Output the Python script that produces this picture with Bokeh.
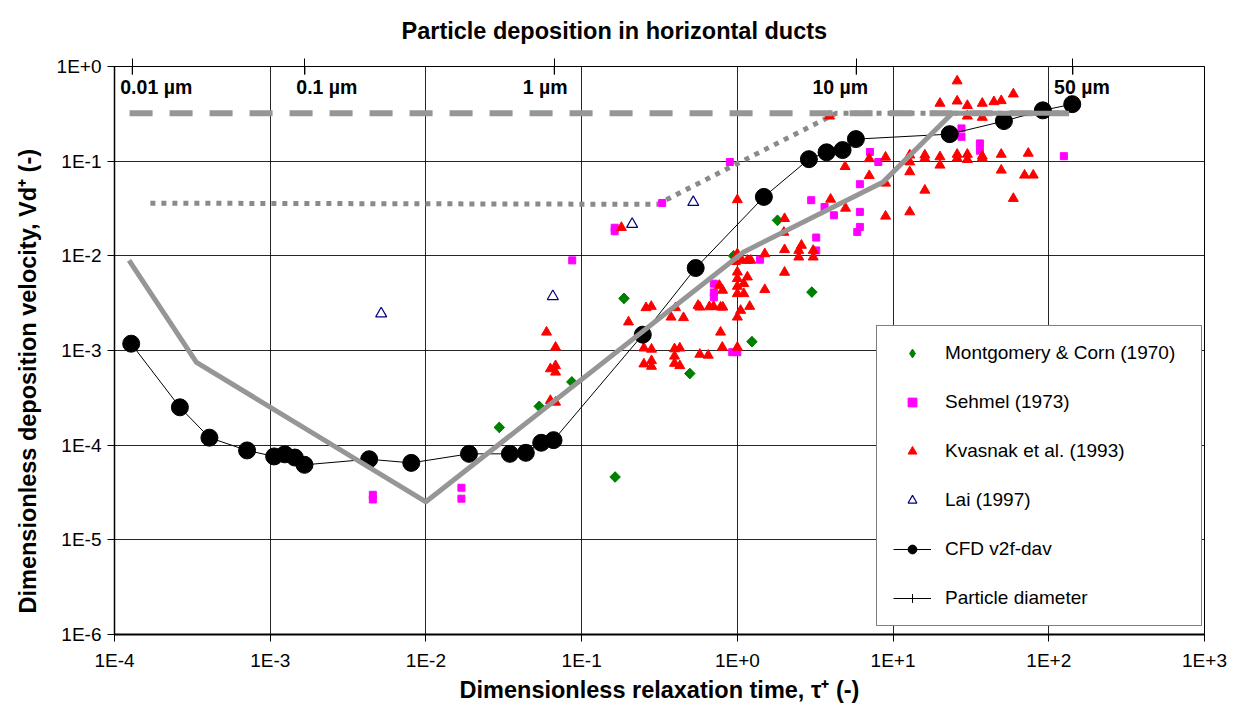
import math
from bokeh.plotting import figure
from bokeh.models import (Range1d, LogAxis, FixedTicker, Title, Legend, LegendItem,
                          ColumnDataSource, CustomJSTickFormatter)
from bokeh.embed import file_html
from bokeh.resources import INLINE
from bokeh.core.properties import value

# ---------------- data ----------------
x_ticks = [1e-4, 1e-3, 1e-2, 1e-1, 1e0, 1e1, 1e2, 1e3]
x_tick_labels = ["1E-4", "1E-3", "1E-2", "1E-1", "1E+0", "1E+1", "1E+2", "1E+3"]
y_ticks = [1e-6, 1e-5, 1e-4, 1e-3, 1e-2, 1e-1, 1e0]
y_tick_labels = ["1E-6", "1E-5", "1E-4", "1E-3", "1E-2", "1E-1", "1E+0"]

mc_tau = [2.96e-2, 5.34e-2, 8.65e-2, 0.164, 0.187, 0.495, 0.946, 1.24, 1.81, 3.01]
mc_vd = [1.54e-4, 2.57e-4, 4.66e-4, 4.61e-5, 3.55e-3, 5.71e-4, 1.0e-2, 1.24e-3, 2.37e-2, 4.14e-3]

se_tau = [4.56e-3, 4.56e-3, 1.69e-2, 1.69e-2, 8.7e-2, 0.163, 0.163, 0.329, 0.706, 0.706,
          0.706, 0.927, 1.0, 0.895, 1.4, 2.98, 3.63, 4.17, 6.12, 6.12,
          5.89, 3.21, 3.21, 7.1, 8.04, 6.12, 27.5, 27.5, 36.1, 36.1, 125]
se_vd = [2.99e-5, 2.67e-5, 3.55e-5, 2.72e-5, 8.96e-3, 1.98e-2, 1.82e-2, 3.62e-2, 5.08e-3, 4.11e-3,
         3.64e-3, 9.6e-4, 9.6e-4, 9.8e-2, 9.1e-3, 3.87e-2, 3.28e-2, 2.68e-2, 2.91e-2, 2.02e-2,
         1.79e-2, 1.56e-2, 1.14e-2, 0.125, 0.098, 5.71e-2, 0.222, 0.181, 0.154, 0.129, 0.113]

kv_tau = [5.95e-2, 6.8e-2, 6.3e-2, 6.8e-2, 6.8e-2, 6.3e-2, 6.8e-2, 0.180, 0.200, 0.259,
          0.280, 0.251, 0.281, 0.251, 0.281, 0.281, 0.375, 0.401, 0.451, 0.395,
          0.427, 0.395, 0.395, 0.427, 0.559, 0.574, 0.574, 0.650, 0.661, 0.703,
          0.780, 0.807, 0.766, 0.804, 0.780, 0.80, 1.0, 1.0, 1.0, 1.0,
          1.0, 1.10, 1.16, 1.10, 1.05, 1.0, 1.20, 1.0, 1.50, 1.50,
          1.07, 1.16, 1.22, 2.01, 2.01, 2.01, 2.58, 2.48, 2.48, 3.07,
          3.07, 3.97, 4.95, 1.0, 3.91, 4.92, 7.03, 7.03, 8.95, 8.95,
          8.95, 1.99, 0.97, 25.8, 59.2, 20.0, 25.8, 30.0, 37.4, 44.4,
          49.5, 30.0, 37.4, 12.8, 12.8, 16.0, 16.0, 20.0, 20.0, 25.8,
          25.8, 30.0, 30.0, 37.4, 37.4, 49.5, 73.8, 12.8, 49.5, 69.9,
          79.5, 16.0, 59.2, 12.8]
kv_vd = [1.56e-3, 1.08e-3, 6.4e-4, 6.9e-4, 5.9e-4, 2.96e-4, 2.84e-4, 1.99e-2, 2.0e-3, 2.83e-3,
         2.92e-3, 1.06e-3, 1.03e-3, 7.2e-4, 7.8e-4, 6.8e-4, 2.25e-3, 2.83e-3, 2.22e-3, 1.04e-3,
         1.06e-3, 8.7e-4, 7.3e-4, 6.9e-4, 2.99e-3, 2.87e-3, 9.1e-4, 8.9e-4, 2.89e-3, 2.92e-3,
         2.87e-3, 2.87e-3, 4.87e-3, 4.32e-3, 1.56e-3, 1.08e-3, 1.05e-2, 6.74e-3, 5.74e-3, 4.76e-3,
         3.98e-3, 5.08e-3, 5.97e-3, 3.98e-3, 2.65e-3, 2.25e-3, 2.92e-3, 1.08e-3, 1.05e-2, 4.39e-3,
         8.96e-3, 8.96e-3, 8.96e-3, 2.47e-2, 1.16e-2, 6.69e-3, 1.29e-2, 1.14e-2, 9.7e-3, 1.14e-2,
         9.7e-3, 3.96e-2, 3.18e-2, 3.91e-2, 0.299, 8.75e-2, 0.106, 7.03e-2, 0.110, 2.62e-2,
         5.85e-2, 1.77e-2, 8.7e-3, 0.703, 0.512, 0.408, 0.431, 0.387, 0.408, 0.424,
         0.435, 0.299, 0.290, 0.116, 0.098, 0.116, 0.107, 0.111, 9.07e-2, 0.118,
         0.107, 0.118, 0.104, 0.113, 0.107, 0.118, 0.121, 7.71e-2, 8.03e-2, 7.11e-2,
         7.11e-2, 4.93e-2, 4.03e-2, 2.91e-2]

lai_tau = [5.16e-3, 6.53e-2, 0.211, 0.521]
lai_vd = [2.45e-3, 3.73e-3, 2.16e-2, 3.68e-2]

cfd_tau = [1.28e-4, 2.63e-4, 4.07e-4, 7.1e-4, 1.06e-3, 1.24e-3, 1.44e-3, 1.66e-3, 4.32e-3, 8.05e-3,
           1.89e-2, 3.46e-2, 4.38e-2, 5.5e-2, 6.6e-2, 0.247, 0.54, 1.48, 2.88, 3.74,
           4.74, 5.77, 23.1, 51.5, 91.6, 141.5]
cfd_vd = [1.18e-3, 2.51e-4, 1.2e-4, 8.8e-5, 7.6e-5, 8.0e-5, 7.4e-5, 6.2e-5, 7.1e-5, 6.5e-5,
          8.1e-5, 8.1e-5, 8.3e-5, 1.06e-4, 1.13e-4, 1.47e-3, 7.43e-3, 4.19e-2, 0.105, 0.124,
          0.131, 0.171, 0.193, 0.265, 0.344, 0.40]

corr_tau = [1.24e-4, 3.36e-4, 1.0e-2, 1.1, 8.65, 24.0, 135]
corr_vd = [8.96e-3, 7.5e-4, 2.52e-5, 1.1e-2, 6.04e-2, 0.32, 0.32]

dash_tau = [1.25e-4, 135]
dash_vd = [0.32, 0.32]

dot_tau = [1.7e-4, 0.307, 4.3, 135]
dot_vd = [3.6e-2, 3.5e-2, 0.32, 0.32]

pd_tau = [1.3e-4, 1.67e-3, 6.67e-2, 5.8, 142.8]
pd_vd = [1, 1, 1, 1, 1]
pd_labels = ["0.01 \u00b5m", "0.1 \u00b5m", "1 \u00b5m", "10 \u00b5m", "50 \u00b5m"]

legend_labels = ["Montgomery & Corn (1970)", "Sehmel (1973)", "Kvasnak et al. (1993)",
                 "Lai (1997)", "CFD v2f-dav", "Particle diameter"]

title_text = "Particle deposition in horizontal ducts"
xlabel_text = "Dimensionless relaxation time, \u03c4\u207a (-)"
ylabel_text = "Dimensionless deposition velocity, Vd\u207a (-)"

# ---------------- styles ----------------
FONT = "Liberation Sans"
GREY = "#969696"
pd_label_dx = [24, 22, -9, -16, 9]

p = figure(width=1243, height=706, x_axis_type="log", y_axis_type="log",
           x_range=Range1d(1e-4, 1e3), y_range=Range1d(1e-6, 1),
           output_backend="svg", toolbar_location=None,
           min_border_left=114, min_border_right=39, min_border_top=66, min_border_bottom=72)
p.background_fill_color = "white"
p.border_fill_color = "white"
p.outline_line_color = "black"
p.outline_line_width = 1

p.title.text = title_text
p.title.align = "left"
p.title.offset = 287
p.title.standoff = 26
p.title.vertical_align = "top"
p.title.text_font = FONT
p.title.text_font_style = "bold"
p.title.text_font_size = "23.5px"
p.title.text_color = "black"

xax = p.below[0]
xax.ticker = FixedTicker(ticks=x_ticks, minor_ticks=[])
xax.major_label_overrides = dict(zip(x_ticks, x_tick_labels))
yax = p.left[0]
yax.ticker = FixedTicker(ticks=y_ticks, minor_ticks=[])
yax.major_label_overrides = dict(zip(y_ticks, y_tick_labels))
for ax in (xax, yax):
    ax.major_tick_in = 0
    ax.major_tick_out = 7
    ax.minor_tick_line_color = None
    ax.major_tick_line_color = "black"
    ax.axis_line_color = "black"
    ax.major_label_text_font = FONT
    ax.major_label_text_font_size = "19px"
    ax.major_label_text_color = "black"
xax.axis_line_width = 2
yax.axis_line_width = 1.5
xax.major_label_standoff = 8
yax.major_label_standoff = 6
xax.axis_label = xlabel_text
xax.axis_label_standoff = 3
xax.axis_label_text_font = FONT
xax.axis_label_text_font_style = "bold"
xax.axis_label_text_font_size = "23.5px"
xax.axis_label_text_color = "black"

# y axis title as a side title so it can be shifted along the axis like the reference
ytitle = Title(text=ylabel_text, align="left", offset=21, standoff=25,
               text_font=FONT, text_font_style="bold", text_font_size="23.5px",
               text_color="black")
p.add_layout(ytitle, "left")

p.xgrid.ticker = FixedTicker(ticks=x_ticks, minor_ticks=[])
p.ygrid.ticker = FixedTicker(ticks=y_ticks, minor_ticks=[])
p.grid.grid_line_color = "black"
p.grid.grid_line_width = 1
p.grid.grid_line_alpha = 0.85

# top axis with particle diameter ticks
top = LogAxis(ticker=FixedTicker(ticks=pd_tau, minor_ticks=[]),
              formatter=CustomJSTickFormatter(code="return '';"),
              major_tick_in=8, major_tick_out=8, major_tick_line_color="black",
              axis_line_color="black", minor_tick_line_color=None,
              major_label_text_font_size="1px", major_label_standoff=0)
p.add_layout(top, "above")

# ---------------- glyphs ----------------
p.line(dot_tau, dot_vd, line_color="#8a8a8a", line_width=5, line_dash="5 6", line_cap="butt")

r_mc_leg = p.scatter(mc_tau, mc_vd, marker="diamond", size=10, fill_color="#008000", line_color="#008000")
r_mc = p.scatter(mc_tau, mc_vd, marker="square", size=7.5, angle=math.pi / 4,
                 fill_color="#008000", line_color="#008000")
r_se = p.scatter(se_tau, se_vd, marker="square", size=7, fill_color="#FF00FF", line_color="#FF00FF")
r_kv = p.scatter(kv_tau, kv_vd, marker="triangle", size=10, fill_color="#FF0000", line_color="#FF0000")
r_lai = p.scatter(lai_tau, lai_vd, marker="triangle", size=11, fill_color=None,
                  line_color="#000080", line_width=1.2)

p.line(dash_tau, dash_vd, line_color=GREY, line_width=6, line_dash="23 17", line_cap="butt")

r_cfd_l = p.line(cfd_tau, cfd_vd, line_color="black", line_width=1)
r_cfd_m = p.scatter(cfd_tau, cfd_vd, marker="circle", size=17, fill_color="black", line_color="black")

p.line(corr_tau, corr_vd, line_color=GREY, line_width=5, line_join="round")

r_pd_l = p.line(pd_tau, pd_vd, line_color="black", line_width=1)
r_pd_m = p.scatter(pd_tau, pd_vd, marker="cross", size=16, line_color="black", line_width=1)

pd_src = ColumnDataSource(dict(x=pd_tau, y=pd_vd, text=pd_labels, dx=pd_label_dx))
p.text(x="x", y="y", text="text", x_offset="dx", y_offset=20, source=pd_src,
       text_font=value(FONT), text_font_style="bold", text_font_size="19.5px",
       text_align="center", text_baseline="middle", text_color="black")

# ---------------- legend ----------------
legend = Legend(items=[
    LegendItem(label=legend_labels[0], renderers=[r_mc_leg]),
    LegendItem(label=legend_labels[1], renderers=[r_se]),
    LegendItem(label=legend_labels[2], renderers=[r_kv]),
    LegendItem(label=legend_labels[3], renderers=[r_lai]),
    LegendItem(label=legend_labels[4], renderers=[r_cfd_l, r_cfd_m]),
    LegendItem(label=legend_labels[5], renderers=[r_pd_l, r_pd_m]),
], location=(762, 8))
legend.margin = 0
legend.padding = 16
legend.spacing = 27
legend.glyph_width = 38
legend.glyph_height = 22
legend.label_height = 22
legend.label_width = 240
legend.label_standoff = 14
legend.label_text_font = FONT
legend.label_text_font_size = "19px"
legend.label_text_color = "black"
legend.border_line_color = "black"
legend.border_line_width = 1
legend.background_fill_color = "white"
legend.background_fill_alpha = 1
p.add_layout(legend)

open("out.html", "w").write(file_html(p, INLINE))
